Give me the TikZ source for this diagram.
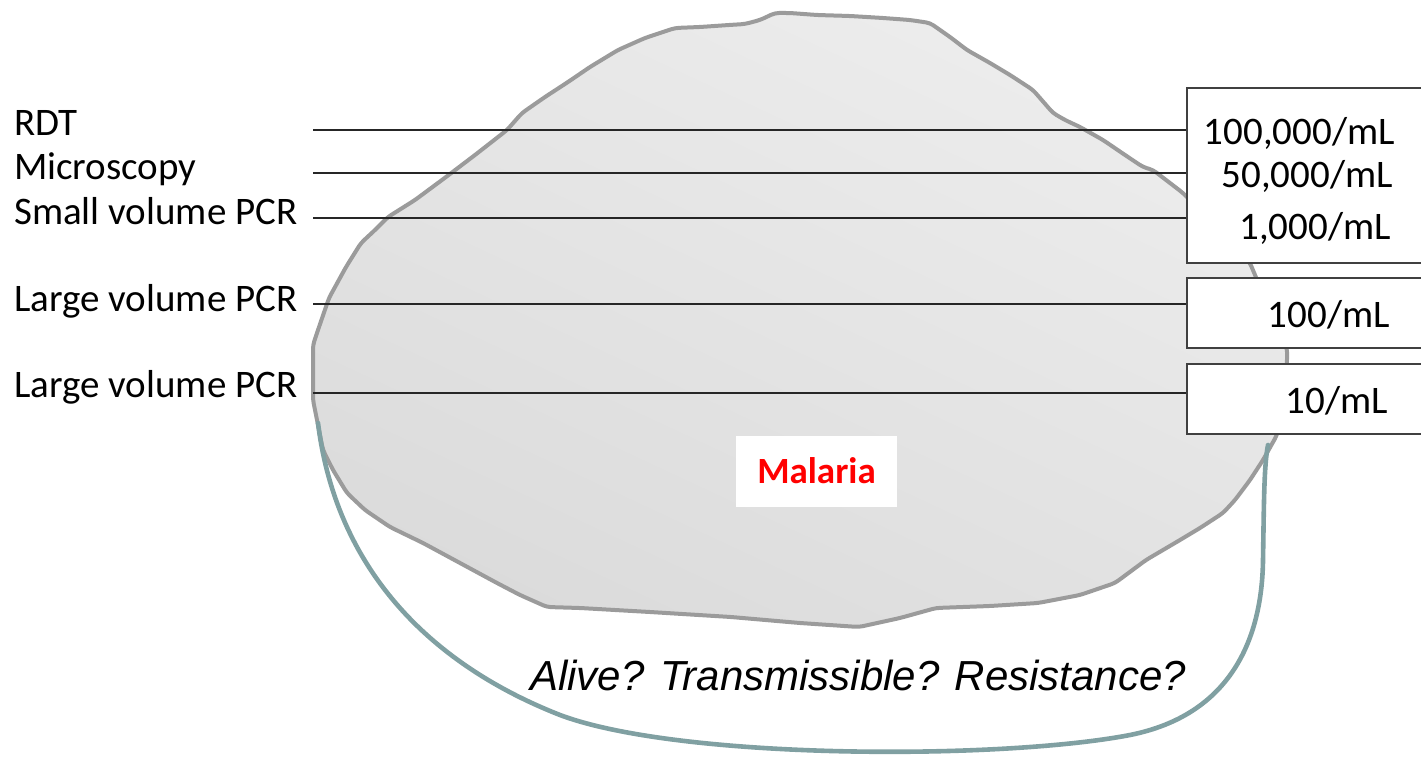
\documentclass[tikz,border=0pt]{standalone}
\usepackage{fontspec}
\setmainfont{Carlito}
\newfontfamily\arialfont{Liberation Sans}
\definecolor{hoopc}{RGB}{128,160,162}
\definecolor{edgec}{RGB}{155,155,155}
\begin{document}
\begin{tikzpicture}[x=1pt,y=-1pt,
  lbl/.style={anchor=base west, font=\fontsize{39}{47}\selectfont, inner sep=0pt},
  val/.style={anchor=base east, font=\fontsize{39}{47}\selectfont, inner sep=0pt},
  rule/.style={draw=black!85, line width=2.4pt},
  valbox/.style={draw=black!75, line width=2.4pt, fill=white, anchor=north west, inner sep=0pt, minimum width=250pt},
  blob/.style={draw=edgec, line width=4pt, line join=round, rounded corners=4pt, top color=black!7, bottom color=black!14, shading angle=-25},
  hoop/.style={draw=hoopc, line width=4.6pt, line cap=round},
  tag/.style={fill=white, inner sep=0pt, minimum width=161pt, minimum height=71pt, text=red, font=\fontsize{37}{44}\selectfont\bfseries}
]
\useasboundingbox (0,0) rectangle (1421,759);
% blob
\path[blob] plot coordinates {(775,13) (790,13) (817,15) (850,16) (883,18) (910,20) (930,23) (950,37) (967,50) (990,63) (1010,75) (1033,90) (1053,113) (1065,120) (1080,127) (1103,140) (1125,155) (1143,167) (1153,170) (1183,193) (1220,230) (1250,263) (1255,275) (1270,310) (1287,348) (1287,363) (1283,400) (1277,435) (1263,460) (1250,480) (1235,500) (1223,513) (1200,528) (1180,540) (1146,560) (1115,583) (1080,595) (1038,603) (990,606) (936,608) (900,618) (859,627) (800,623) (731,617) (650,612) (580,608) (547,607) (520,595) (497,583) (460,563) (423,543) (390,527) (365,510) (347,493) (333,470) (323,450) (317,420) (313,400) (313,345) (318,330) (329,298) (346,267) (361,243) (375,230) (388,217) (415,200) (446,177) (475,155) (507,130) (522,113) (545,97) (568,82) (590,67) (618,50) (645,38) (675,28) (700,27) (729,25) (745,24) (760,20)} -- cycle;
% boxes
\node[valbox, minimum height=175pt] (b1) at (1186,87) {};
\node[valbox, minimum height=70pt] (b2) at (1186,277) {};
\node[valbox, minimum height=70pt] (b3) at (1186,363) {};
% values
\node[val] (v1) at (1395,145) {100,000/mL};
\node[val] (v2) at (1393,188) {50,000/mL};
\node[val] (v3) at (1391,240) {1,000/mL};
\node[val] (v4) at (1390,327) {100/mL};
\node[val] (v5) at (1388,413) {10/mL};
% labels
\node[lbl] (l1) at (14,136) {RDT};
\node[lbl] (l2) at (14,180) {Microscopy};
\node[lbl] (l3) at (14,225) {Small volume PCR};
\node[lbl] (l4) at (14,312) {Large volume PCR};
\node[lbl] (l5) at (14,397) {Large volume PCR};
% rules
\coordinate (r1) at (313,130);
\coordinate (r2) at (313,173);
\coordinate (r3) at (313,218);
\coordinate (r4) at (313,304);
\coordinate (r5) at (313,393);
\draw[rule] (r1) -- (r1 -| b1.west);
\draw[rule] (r2) -- (r2 -| b1.west);
\draw[rule] (r3) -- (r3 -| b1.west);
\draw[rule] (r4) -- (r4 -| b2.west);
\draw[rule] (r5) -- (r5 -| b3.west);
% malaria tag
\node[tag] (mal) at (816.5,471) {Malaria};
% hoop
\coordinate (hs) at (318,423);
\coordinate (he) at (1268,445);
\draw[hoop] (hs) .. controls (335,560) and (420,660) .. (560,715)
  .. controls (680,760) and (1000,760) .. (1130,735)
  .. controls (1230,715) and (1262,640) .. (1263,560)
  .. controls (1264,500) and (1264,465) .. (he);
\node[anchor=base west, inner sep=0pt, font=\arialfont\itshape\fontsize{42}{50}\selectfont] (q) at (530,690) {Alive? Transmissible? Resistance?};
\end{tikzpicture}
\end{document}
